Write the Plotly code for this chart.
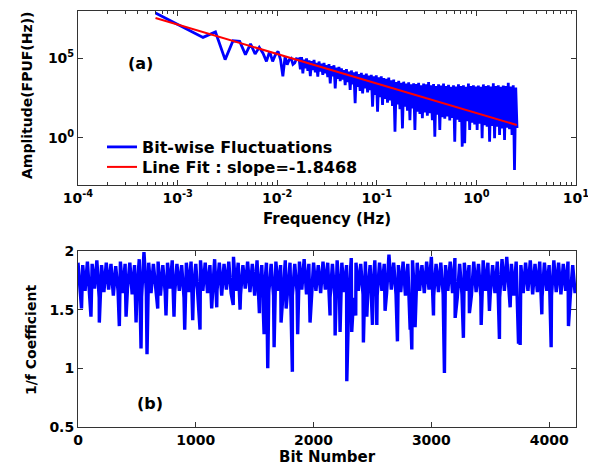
import numpy as np
import plotly.graph_objects as go

# ---- panel (a): spectrum of bit-wise fluctuations ----
F0 = 6.0e-4  # bin width in Hz

# first FFT bins, log10 amplitude
low_bins = list(range(1, 28))
low_log_amp = [7.81, 6.84, 6.29, 6.63, 4.90, 6.08, 6.04, 5.21, 5.88, 5.25,
               5.67, 5.30, 4.79, 5.42, 4.79, 5.20, 5.42, 4.90, 3.86, 5.10,
               4.58, 4.90, 4.98, 4.60, 4.69, 4.95, 4.92]

# dense part (log10 f from -1.78 to 0.41): upper / lower edge of the band
band_start, band_step = -1.78, 0.025
band_hi_log = [4.95, 5.05, 4.90, 4.98, 4.85, 4.80, 4.88, 4.70, 4.78, 4.65,
               4.70, 4.55, 4.62, 4.50, 4.55, 4.40, 4.45, 4.35, 4.25, 4.30,
               4.15, 4.22, 4.10, 4.15, 4.00, 4.08, 3.95, 4.02, 3.90, 3.95,
               3.85, 3.92, 3.80, 3.85, 3.75, 3.70, 3.78, 3.60, 3.65, 3.50,
               3.58, 3.45, 3.52, 3.40, 3.48, 3.35, 3.42, 3.38, 3.45, 3.30,
               3.40, 3.35, 3.50, 3.30, 3.38, 3.25, 3.35, 3.28, 3.40, 3.25,
               3.32, 3.20, 3.30, 3.22, 3.35, 3.25, 3.30, 3.20, 3.40, 3.25,
               3.30, 3.22, 3.28, 3.20, 3.35, 3.25, 3.30, 3.22, 3.42, 3.25,
               3.30, 3.20, 3.28, 3.25, 3.45, 3.22, 3.30, 3.15]
band_lo_log = [4.30, 4.04, 4.35, 4.20, 3.87, 4.25, 4.10, 3.83, 4.15, 3.95,
               4.05, 3.80, 3.42, 3.85, 3.10, 3.70, 3.55, 3.65, 3.30, 3.50,
               3.00, 3.35, 2.17, 3.20, 2.95, 2.79, 3.10, 2.85, 3.00, 1.96,
               2.70, 1.64, 2.55, 2.06, 2.45, 2.20, 2.35, 2.00, 0.39, 2.10,
               1.80, 0.60, 1.95, 1.70, 1.12, 1.85, 0.50, 1.65, 1.50, 1.23,
               1.60, 1.40, 1.55, 1.12, 0.08, 1.45, 0.50, 1.30, 1.20, 1.35,
               1.10, 1.25, -0.23, 1.15, 1.00, -0.54, -0.33, 1.05, 0.50, 0.95,
               0.85, 0.50, 0.90, -0.02, 0.80, 0.70, -0.23, 0.75, -0.02, 0.70,
               0.19, 0.60, -0.125, 0.65, 0.55, 0.19, -2.00, 0.62]

# line fit end points
fit_freq = [6.0e-4, 2.54]
fit_amp = [3.2e7, 6.5]

# ---- panel (b): 1/f coefficient per bit ----
coef_step = 40
coef_hi = [1.90, 1.88, 1.91, 1.89, 1.92, 1.88, 1.90, 1.89, 1.87, 1.91,
           1.89, 1.90, 1.88, 1.93, 1.99, 1.90, 1.89, 1.91, 1.88, 1.90,
           1.92, 1.89, 1.88, 1.90, 1.91, 1.89, 1.92, 1.90, 1.88, 1.93,
           1.90, 1.89, 1.91, 1.95, 1.90, 1.88, 1.91, 1.89, 1.92, 1.88,
           1.90, 1.89, 1.91, 1.88, 1.92, 1.90, 1.89, 1.91, 1.93, 1.89,
           1.90, 1.88, 1.91, 1.90, 1.89, 1.92, 1.90, 1.88, 1.94, 1.90,
           1.89, 1.91, 1.88, 1.92, 1.90, 1.89, 1.97, 1.90, 1.88, 1.91,
           1.89, 1.92, 1.90, 1.88, 1.91, 1.95, 1.89, 1.90, 1.88, 1.91,
           1.94, 1.89, 1.90, 1.88, 1.91, 1.89, 1.92, 1.90, 1.88, 1.91,
           1.93, 1.95, 1.89, 1.91, 1.88, 1.90, 1.92, 1.89, 1.91, 1.90,
           1.88, 1.92, 1.90, 1.89, 1.91, 1.88]
coef_lo = [1.62, 1.66, 1.63, 1.68, 1.60, 1.65, 1.67, 1.62, 1.66, 1.64,
           1.68, 1.63, 1.65, 1.61, 1.66, 1.64, 1.67, 1.62, 1.65, 1.68,
           1.63, 1.66, 1.60, 1.65, 1.67, 1.63, 1.66, 1.64, 1.60, 1.66,
           1.62, 1.67, 1.64, 1.66, 1.63, 1.68, 1.65, 1.62, 1.60, 1.63,
           1.65, 1.62, 1.66, 1.60, 1.64, 1.62, 1.65, 1.67, 1.63, 1.61,
           1.66, 1.64, 1.67, 1.60, 1.62, 1.63, 1.65, 1.62, 1.60, 1.66,
           1.63, 1.64, 1.61, 1.62, 1.66, 1.64, 1.67, 1.63, 1.65, 1.62,
           1.60, 1.58, 1.66, 1.64, 1.67, 1.62, 1.65, 1.63, 1.66, 1.64,
           1.60, 1.63, 1.66, 1.62, 1.65, 1.61, 1.66, 1.63, 1.64, 1.60,
           1.66, 1.63, 1.62, 1.58, 1.64, 1.66, 1.63, 1.65, 1.61, 1.66,
           1.62, 1.65, 1.63, 1.66, 1.62, 1.64]
dip_bits = [30, 110, 181, 351, 408, 493, 535, 586, 677, 747, 815, 906, 974,
            1036, 1135, 1178, 1318, 1376, 1540, 1580, 1611, 1665, 1724, 1767,
            1820, 1865, 1970, 2140, 2183, 2225, 2282, 2324, 2358, 2423, 2452,
            2500, 2537, 2607, 2712, 2820, 2834, 2862, 3018, 3111, 3202, 3272,
            3323, 3423, 3493, 3578, 3669, 3740, 3754, 3938, 4017, 4164]
dip_vals = [1.51, 1.44, 1.39, 1.36, 1.44, 1.39, 1.17, 1.12, 1.51, 1.45, 1.44,
            1.33, 1.41, 1.33, 1.51, 1.52, 1.54, 1.50, 1.47, 1.29, 1.00, 1.18,
            1.39, 1.51, 0.97, 1.29, 1.39, 1.45, 1.28, 1.31, 0.89, 1.31, 1.45,
            1.22, 1.44, 1.37, 1.37, 1.49, 1.23, 1.33, 1.16, 1.35, 1.45, 0.96,
            1.43, 1.26, 1.47, 1.37, 1.49, 1.25, 1.52, 1.21, 1.20, 1.46, 1.18,
            1.36]

freq_ticks = [1e-4, 1e-3, 1e-2, 1e-1, 1, 10]
freq_tick_text = ["10<sup>-4</sup>", "10<sup>-3</sup>", "10<sup>-2</sup>",
                  "10<sup>-1</sup>", "10<sup>0</sup>", "10<sup>1</sup>"]

BLUE = "#0000FF"
RED = "#FF0000"
FONT = "DejaVu Sans, Arial, sans-serif"

# the page body adds an 8px offset, so the figure is 8px smaller
W, H = 588, 457
ML, MR, MT, MB = 70, 20, 3, 38
PW, PH = W - ML - MR, H - MT - MB


def px_to_paper(x, y):
    # reference pixel -> paper coords of the plot area
    return (x - 8 - ML) / PW, 1 - (y - 8 - MT) / PH


# build spectrum trace: low bins then zig-zag over the band
spec_f = [k * F0 for k in low_bins]
spec_a = [10 ** v for v in low_log_amp]
for i, (hi, lo) in enumerate(zip(band_hi_log, band_lo_log)):
    lf = band_start + i * band_step
    spec_f += [10 ** lf, 10 ** (lf + band_step / 2)]
    spec_a += [10 ** hi, 10 ** lo]

# build coefficient trace
pts = [(i * coef_step, v) for i, v in enumerate(coef_hi)]
pts += [(i * coef_step + coef_step // 2, v) for i, v in enumerate(coef_lo)]
pts += list(zip(dip_bits, dip_vals))
pts.sort()
bit_x = [p[0] for p in pts]
bit_y = [p[1] for p in pts]

minor_freq = [m * 10 ** e for e in range(-4, 1) for m in range(2, 10)]

fig = go.Figure()
fig.add_trace(go.Scatter(x=spec_f, y=spec_a, mode="lines",
                         line=dict(color=BLUE, width=2.8),
                         name="Bit-wise Fluctuations", legend="legend",
                         xaxis="x", yaxis="y"))
fig.add_trace(go.Scatter(x=fit_freq, y=fit_amp, mode="lines",
                         line=dict(color=RED, width=2),
                         name="Line Fit : slope=-1.8468", legend="legend2",
                         xaxis="x", yaxis="y"))
fig.add_trace(go.Scatter(x=bit_x, y=bit_y, mode="lines",
                         line=dict(color=BLUE, width=3.4),
                         showlegend=False, xaxis="x2", yaxis="y2"))

axis_common = dict(showline=True, linecolor="#333333", linewidth=1,
                   mirror="ticks", ticks="inside", ticklen=5,
                   tickcolor="#333333", showgrid=False, zeroline=False,
                   automargin=False,
                   tickfont=dict(family=FONT, size=14, weight="bold"))

leg_font = dict(family=FONT, size=16, weight="bold")
lx, ly1 = px_to_paper(102, 147)
_, ly2 = px_to_paper(102, 167)

fig.update_layout(
    width=W, height=H,
    margin=dict(l=ML, r=MR, t=MT, b=MB),
    paper_bgcolor="white", plot_bgcolor="white",
    font=dict(family=FONT, color="black", weight="bold", size=15),
    xaxis=dict(axis_common, type="log", domain=[0, 1], anchor="y",
               range=[-4, 1], tickvals=freq_ticks, ticktext=freq_tick_text,
               minor=dict(ticks="inside", ticklen=3, tickvals=minor_freq,
                          tickcolor="#333333", showgrid=False)),
    yaxis=dict(axis_common, type="log", domain=[0.5817, 1], anchor="x",
               range=[-2.94, 7.94], tickvals=[1, 1e5],
               ticktext=["10<sup>0</sup>", "10<sup>5</sup>"]),
    xaxis2=dict(axis_common, domain=[0, 1], anchor="y2",
                range=[0, 4228], tickvals=[0, 1000, 2000, 3000, 4000]),
    yaxis2=dict(axis_common, domain=[0, 0.4231], anchor="x2",
                range=[0.5, 2], tickvals=[0.5, 1, 1.5, 2],
                ticktext=["0.5", "1", "1.5", "2"]),
    legend=dict(x=lx, y=ly1, xanchor="left", yanchor="middle",
                bgcolor="rgba(0,0,0,0)", font=leg_font),
    legend2=dict(x=lx, y=ly2, xanchor="left", yanchor="middle",
                 bgcolor="rgba(0,0,0,0)", font=leg_font),
    showlegend=True,
)

notes = [
    dict(text="(a)", x=140, y=63, size=16, angle=0),
    dict(text="(b)", x=150, y=403, size=16, angle=0),
    dict(text="Frequency (Hz)", x=327, y=219, size=15, angle=0),
    dict(text="Bit Number", x=327, y=457, size=15, angle=0),
    dict(text="Amplitude(FPUF(Hz))", x=27, y=96, size=14, angle=-90),
    dict(text="1/f Coefficient", x=31, y=340, size=14, angle=-90),
]
for n in notes:
    ax, ay = px_to_paper(n["x"], n["y"])
    fig.add_annotation(text=n["text"], xref="paper", yref="paper",
                       x=ax, y=ay,
                       xanchor="center", yanchor="middle", showarrow=False,
                       textangle=n["angle"],
                       font=dict(family=FONT, size=n["size"], weight="bold"))

fig.write_html("out.html")
